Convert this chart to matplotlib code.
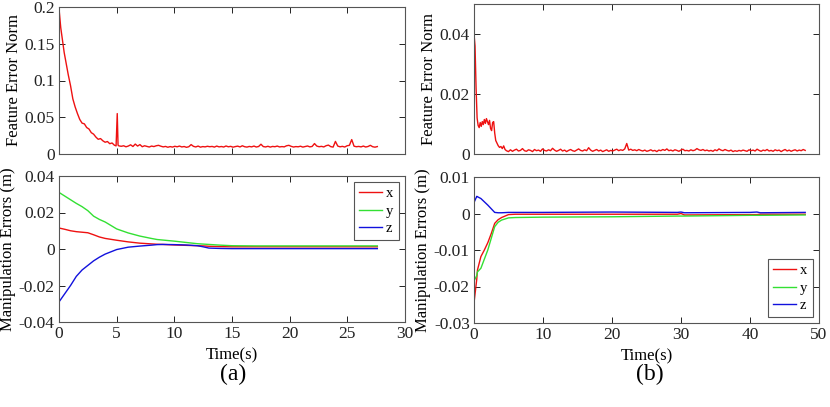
import numpy as np
import matplotlib
matplotlib.use("Agg")
import matplotlib.pyplot as plt

plt.rcParams['font.family'] = ['Liberation Serif', 'DejaVu Serif']
plt.rcParams['axes.unicode_minus'] = False

# ---- (a) feature error norm ----
fa_head_t = [0, 0.15, 0.3, 0.45, 0.6, 0.8, 1.0, 1.2, 1.4, 1.6, 1.8, 2.0, 2.2, 2.4, 2.6, 2.8, 3.0,
             3.2, 3.4, 3.6, 3.8, 4.0, 4.2, 4.4, 4.6, 4.8, 4.95, 5.05, 5.12]
fa_head_v = [0.198, 0.172, 0.155, 0.138, 0.125, 0.108, 0.093, 0.075, 0.064, 0.055, 0.047, 0.042,
             0.041, 0.036, 0.034, 0.029, 0.027, 0.023, 0.020, 0.021, 0.018, 0.016, 0.017, 0.014,
             0.015, 0.012, 0.011, 0.055, 0.012]
fa_tail_v = [0.011, 0.0105, 0.0112, 0.0098, 0.0108, 0.0125, 0.0102, 0.0135, 0.0108, 0.0128,
             0.0099, 0.0112, 0.0104, 0.0095, 0.0108, 0.0101, 0.0112, 0.0118, 0.0106, 0.0097,
             0.0103, 0.0092, 0.0101, 0.0094, 0.0105, 0.0098, 0.0108, 0.0096, 0.0102, 0.0091,
             0.0099, 0.0128, 0.0104, 0.0096, 0.0108, 0.0093, 0.0101, 0.0097, 0.0105, 0.0099,
             0.0103, 0.0094, 0.0108, 0.0097, 0.0102, 0.0095, 0.0109, 0.0098, 0.0104, 0.0093,
             0.0101, 0.0107, 0.0096, 0.0112, 0.0099, 0.0094, 0.0103, 0.0097, 0.0108, 0.0095,
             0.0102, 0.0133, 0.0101, 0.0096, 0.0105, 0.0094, 0.0103, 0.0099, 0.0108, 0.0096,
             0.0101, 0.0097, 0.0112, 0.0118, 0.0104, 0.0095, 0.0101, 0.0098, 0.0106, 0.0094,
             0.0102, 0.0109, 0.0097, 0.0103, 0.0142, 0.0108, 0.0099, 0.0104, 0.0096, 0.0113,
             0.0121, 0.0100, 0.0094, 0.0171, 0.0108, 0.0098, 0.0104, 0.0095, 0.0112, 0.0118,
             0.0196, 0.0106, 0.0099, 0.0103, 0.0097, 0.0108, 0.0095, 0.0102, 0.0118, 0.0099,
             0.0093, 0.0101]
fa_tail_start, fa_tail_end = 5.2, 27.6

# ---- (a) manipulation errors ----
ma_t = [0, 0.5, 1, 1.5, 2, 2.5, 3, 3.5, 4, 5, 6, 7, 8, 8.5, 9, 10, 11, 12, 12.5, 13, 14, 15, 17, 20, 24, 27.6]
ma_x = [0.0115, 0.0108, 0.0100, 0.0095, 0.0092, 0.0089, 0.0078, 0.0066, 0.0058, 0.0048, 0.0039, 0.0032,
        0.0028, 0.0026, 0.0025, 0.0022, 0.0020, 0.0018, 0.0017, 0.0015, 0.0013, 0.0012, 0.0012, 0.0012,
        0.0012, 0.0012]
ma_y = [0.0310, 0.0290, 0.0270, 0.0250, 0.0232, 0.0210, 0.0180, 0.0162, 0.0148, 0.0110, 0.0088, 0.0071,
        0.0058, 0.0052, 0.0049, 0.0043, 0.0036, 0.0029, 0.0027, 0.0025, 0.0021, 0.0018, 0.0017, 0.0017,
        0.0017, 0.0017]
ma_z = [-0.0290, -0.0245, -0.0200, -0.0150, -0.0115, -0.0090, -0.0065, -0.0045, -0.0028, -0.0003, 0.0010,
        0.0016, 0.0021, 0.0024, 0.0025, 0.0024, 0.0022, 0.0018, 0.0012, 0.0005, 0.0003, 0.0002, 0.0002,
        0.0002, 0.0002, 0.0002]

# ---- (b) feature error norm ----
fb_head_t = [0, 0.15, 0.3, 0.45, 0.6, 0.75, 0.9, 1.05, 1.2, 1.35, 1.5, 1.65, 1.8, 1.95, 2.1, 2.25,
             2.4, 2.55, 2.7, 2.85, 3.0, 3.15, 3.3, 3.5, 3.7, 3.9, 4.1, 4.3, 4.5]
fb_head_v = [0.040, 0.036, 0.022, 0.012, 0.0095, 0.0088, 0.0105, 0.0092, 0.0108, 0.0098, 0.0115,
             0.0102, 0.0118, 0.0108, 0.0098, 0.0112, 0.0085, 0.0078, 0.0105, 0.0108, 0.0070, 0.0045,
             0.0038, 0.0028, 0.0022, 0.0025, 0.0018, 0.0027, 0.0015]
fb_tail_v = [0.0011, 0.0008, 0.0014, 0.0009, 0.0013, 0.0016, 0.0010, 0.0012, 0.0018, 0.0011,
             0.0009, 0.0014, 0.0012, 0.0008, 0.0015, 0.0011, 0.0013, 0.0009, 0.0017, 0.0012,
             0.0010, 0.0014, 0.0011, 0.0019, 0.0013, 0.0009, 0.0012, 0.0016, 0.0010, 0.0013,
             0.0008, 0.0012, 0.0015, 0.0011, 0.0009, 0.0013, 0.0017, 0.0012, 0.0010, 0.0014,
             0.0011, 0.0021, 0.0013, 0.0009, 0.0012, 0.0015, 0.0010, 0.0013, 0.0008, 0.0011,
             0.0014, 0.0009, 0.0012, 0.0010, 0.0013, 0.0016, 0.0011, 0.0014, 0.0012, 0.0017,
             0.0035, 0.0013, 0.0016, 0.0012, 0.0014, 0.0011, 0.0015, 0.0012, 0.0010, 0.0013,
             0.0009, 0.0011, 0.0014, 0.0010, 0.0012, 0.0008, 0.0013, 0.0011, 0.0015, 0.0012,
             0.0017, 0.0011, 0.0013, 0.0010, 0.0014, 0.0012, 0.0009, 0.0013, 0.0016, 0.0011,
             0.0012, 0.0010, 0.0014, 0.0011, 0.0013, 0.0018, 0.0014, 0.0012, 0.0015, 0.0011,
             0.0013, 0.0010, 0.0012, 0.0009, 0.0014, 0.0011, 0.0017, 0.0013, 0.0011, 0.0015,
             0.0012, 0.0010, 0.0013, 0.0008, 0.0011, 0.0009, 0.0012, 0.0010, 0.0013, 0.0011,
             0.0009, 0.0014, 0.0011, 0.0013, 0.0010, 0.0016, 0.0012, 0.0009, 0.0013, 0.0011,
             0.0015, 0.0010, 0.0012, 0.0009, 0.0014, 0.0011, 0.0013, 0.0008, 0.0012, 0.0015,
             0.0010, 0.0013, 0.0009, 0.0012, 0.0014, 0.0010, 0.0013, 0.0011, 0.0015, 0.0012]
fb_tail_start, fb_tail_end = 4.7, 48.0

# ---- (b) manipulation errors ----
mb_t = [0, 0.4, 0.5, 1, 1.5, 2, 2.5, 3, 3.5, 4, 5, 6, 10, 20, 29.5, 30, 30.5, 40, 41, 41.5, 48]
mb_x = [-0.0245, -0.0180, -0.0155, -0.0118, -0.0100, -0.0080, -0.0055, -0.0027, -0.0017, -0.0011,
        -0.0003, -0.0002, -0.0002, -0.0002, -0.0002, 0.0000, -0.0004, -0.0003, -0.0003, -0.0002, -0.0002]
mb_y = [-0.0185, -0.0170, -0.0160, -0.0150, -0.0125, -0.0100, -0.0068, -0.0036, -0.0024, -0.0018,
        -0.0012, -0.0011, -0.0010, -0.0009, -0.0007, -0.0007, -0.0007, -0.0005, -0.0005, -0.0005, -0.0004]
mb_z = [0.0030, 0.0047, 0.0046, 0.0041, 0.0032, 0.0023, 0.0013, 0.0003, 0.0002, 0.0002,
        0.0003, 0.0003, 0.0003, 0.0004, 0.0003, 0.0004, 0.0002, 0.0003, 0.0004, 0.0002, 0.0003]

RED = '#ee1111'
GREEN = '#33e033'
BLUE = '#1111dd'
FRAME = '#555555'


def estilo(ax, xlim, xticks, ylim, yticks, ylabels, ylab, show_x):
    ax.set_xlim(xlim)
    ax.set_ylim(ylim)
    ax.set_xticks(xticks)
    ax.set_yticks(yticks)
    ax.set_yticklabels(ylabels)
    if show_x:
        ax.set_xticklabels([str(v) for v in xticks])
        ax.set_xlabel('Time(s)', fontsize=12, labelpad=4)
    else:
        ax.set_xticklabels([])
    ax.set_ylabel(ylab, fontsize=12, labelpad=2)
    ax.tick_params(direction='in', top=True, right=True, length=4, width=0.7,
                   colors='#222222', labelsize=12.5, pad=3)
    for s in ax.spines.values():
        s.set_color(FRAME)
        s.set_linewidth(0.8)


def leyenda(ax, loc, anchor):
    leg = ax.legend(loc=loc, fontsize=10.5, handlelength=1.6, handletextpad=0.25,
                    borderpad=0.35, labelspacing=0.28, fancybox=False, framealpha=1,
                    bbox_to_anchor=anchor, borderaxespad=0)
    leg.get_frame().set_edgecolor('#555555')
    leg.get_frame().set_linewidth(0.8)


fig = plt.figure(figsize=(8.3, 4.07), dpi=100)
W, H = 830.0, 407.0


def rect(x0, y0, x1, y1):
    return [x0 / W, (H - y1) / H, (x1 - x0) / W, (y1 - y0) / H]


ax1 = fig.add_axes(rect(59, 7, 405, 154))
ax2 = fig.add_axes(rect(59, 176, 405, 322))
ax3 = fig.add_axes(rect(474, 4, 819, 154))
ax4 = fig.add_axes(rect(474, 177, 819, 323))

# (a) top
ta = np.concatenate([fa_head_t, np.linspace(fa_tail_start, fa_tail_end, len(fa_tail_v))])
va = np.concatenate([fa_head_v, fa_tail_v])
ax1.plot(ta, va, color=RED, lw=1.0)
estilo(ax1, (0, 30), [0, 5, 10, 15, 20, 25, 30], (0, 0.2), [0, 0.05, 0.1, 0.15, 0.2],
       ['0', '0.05', '0.1', '0.15', '0.2'], 'Feature Error Norm', False)

# (a) bottom
ax2.plot(ma_t, ma_x, color=RED, lw=1.0, label='x')
ax2.plot(ma_t, ma_y, color=GREEN, lw=1.0, label='y')
ax2.plot(ma_t, ma_z, color=BLUE, lw=1.0, label='z')
estilo(ax2, (0, 30), [0, 5, 10, 15, 20, 25, 30], (-0.04, 0.04), [-0.04, -0.02, 0, 0.02, 0.04],
       ['-0.04', '-0.02', '0', '0.02', '0.04'], 'Manipulation Errors (m)', True)
leyenda(ax2, 'upper right', (1 - 6.5 / 346, 1 - 6 / 146))

# (b) top
tb = np.concatenate([fb_head_t, np.linspace(fb_tail_start, fb_tail_end, len(fb_tail_v))])
vb = np.concatenate([fb_head_v, fb_tail_v])
ax3.plot(tb, vb, color=RED, lw=1.0)
estilo(ax3, (0, 50), [0, 10, 20, 30, 40, 50], (0, 0.05), [0, 0.02, 0.04],
       ['0', '0.02', '0.04'], 'Feature Error Norm', False)

# (b) bottom
ax4.plot(mb_t, mb_x, color=RED, lw=1.0, label='x')
ax4.plot(mb_t, mb_y, color=GREEN, lw=1.0, label='y')
ax4.plot(mb_t, mb_z, color=BLUE, lw=1.0, label='z')
estilo(ax4, (0, 50), [0, 10, 20, 30, 40, 50], (-0.03, 0.01), [-0.03, -0.02, -0.01, 0, 0.01],
       ['-0.03', '-0.02', '-0.01', '0', '0.01'], 'Manipulation Errors (m)', True)
leyenda(ax4, 'lower right', (1 - 6.5 / 345, 6 / 146))

fig.text(233 / W, 1 - 374 / H, '(a)', fontsize=17, ha='center', va='center')
fig.text(650 / W, 1 - 374 / H, '(b)', fontsize=17, ha='center', va='center')

fig.savefig('out.png', dpi=100)
